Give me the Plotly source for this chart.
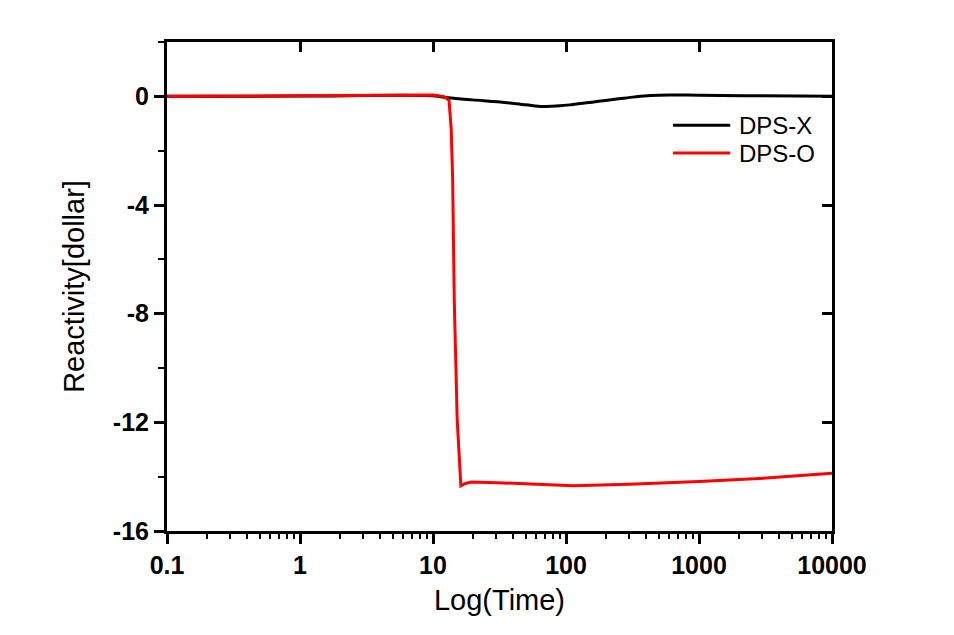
import plotly.graph_objects as go

# DPS-X (black)
t_x = [0.1, 1, 10, 13, 20, 32, 50, 67, 90, 113, 150, 183, 250, 330, 430, 600, 1000, 3000, 10000]
rho_x = [0, 0.01, 0.02, -0.05, -0.13, -0.21, -0.31, -0.37, -0.35, -0.30, -0.23, -0.17,
         -0.09, -0.02, 0.03, 0.05, 0.04, 0.02, 0.0]

# DPS-O (red)
t_o = [0.1, 1, 5, 10, 12, 13.2, 13.7, 14.06, 14.45, 15.2, 16.2, 17.5, 19.5, 30, 60, 113, 300, 1000, 3200, 10000]
rho_o = [0, 0.02, 0.04, 0.05, 0.0, -0.15, -1.2, -3.1, -7.5, -11.9, -14.34, -14.25, -14.2, -14.22,
         -14.28, -14.33, -14.28, -14.18, -14.05, -13.87]

series = [("DPS-X", t_x, rho_x, "black", "spline"), ("DPS-O", t_o, rho_o, "red", "linear")]

x_major = [0.1, 1, 10, 100, 1000, 10000]
x_labels = ["0.1", "1", "10", "100", "1000", "10000"]
x_minor = [m * d for d in [0.1, 1, 10, 100, 1000] for m in range(2, 10)]
y_major = [0, -4, -8, -12, -16]
y_minor = [2, -2, -6, -10, -14]

font = "Liberation Sans, Arial, sans-serif"

fig = go.Figure()
for name, t, r, c, shp in series:
    fig.add_trace(go.Scatter(x=t, y=r, mode="lines", name=name, showlegend=False,
                             line=dict(color=c, width=3, shape=shp)))

# invisible copy so the top/right frame axes get drawn
fig.add_trace(go.Scatter(x=t_x, y=rho_x, xaxis="x2", yaxis="y2", mode="lines",
                         line=dict(width=0), opacity=0, showlegend=False, hoverinfo="skip"))

# hand-placed legend (sample line + label)
leg_y = [0.830, 0.773]
shapes = []
annotations = []
for (name, _, _, c, _), yy in zip(series, leg_y):
    shapes.append(dict(type="line", xref="paper", yref="paper", x0=0.761, x1=0.847,
                       y0=yy, y1=yy, line=dict(color=c, width=3)))
    annotations.append(dict(text=name, xref="paper", yref="paper", x=0.857, y=yy,
                            xanchor="left", yanchor="middle", showarrow=False,
                            font=dict(size=24, color="black")))

# page body adds an 8px offset, so margins are shifted by 8
fig.update_layout(
    width=954, height=635,
    margin=dict(l=159, r=130, t=34, b=112),
    paper_bgcolor="white", plot_bgcolor="white",
    font=dict(family=font, size=24, color="black"),
    showlegend=False,
    shapes=shapes, annotations=annotations,
    xaxis=dict(
        type="log", range=[-1, 4],
        tickvals=x_major, ticktext=["<b>%s</b>" % s for s in x_labels],
        ticks="outside", ticklen=10, tickwidth=2.5, tickcolor="black",
        minor=dict(tickvals=x_minor, ticks="outside", ticklen=5, tickwidth=2, tickcolor="black"),
        showline=True, linewidth=3, linecolor="black",
        showgrid=False, zeroline=False,
        title=dict(text="Log(Time)", standoff=12),
        tickfont=dict(size=25),
    ),
    yaxis=dict(
        range=[-16, 2],
        tickvals=y_major, ticktext=["<b>%d</b>" % v for v in y_major],
        ticks="outside", ticklen=10, tickwidth=2.5, tickcolor="black",
        minor=dict(tickvals=y_minor, ticks="outside", ticklen=6, tickwidth=2, tickcolor="black"),
        showline=True, linewidth=3, linecolor="black",
        showgrid=False, zeroline=False,
        title=dict(text="Reactivity[dollar]", standoff=20),
        tickfont=dict(size=25),
    ),
    xaxis2=dict(
        type="log", range=[-1, 4], overlaying="x", side="top",
        tickvals=x_major, showticklabels=False,
        ticks="inside", ticklen=10, tickwidth=2.5, tickcolor="black",
        showline=True, linewidth=3, linecolor="black",
        showgrid=False, zeroline=False,
    ),
    yaxis2=dict(
        range=[-16, 2], overlaying="y", side="right",
        tickvals=y_major, showticklabels=False,
        ticks="inside", ticklen=10, tickwidth=2.5, tickcolor="black",
        showline=True, linewidth=3, linecolor="black",
        showgrid=False, zeroline=False,
    ),
)

fig.write_html("out.html")
